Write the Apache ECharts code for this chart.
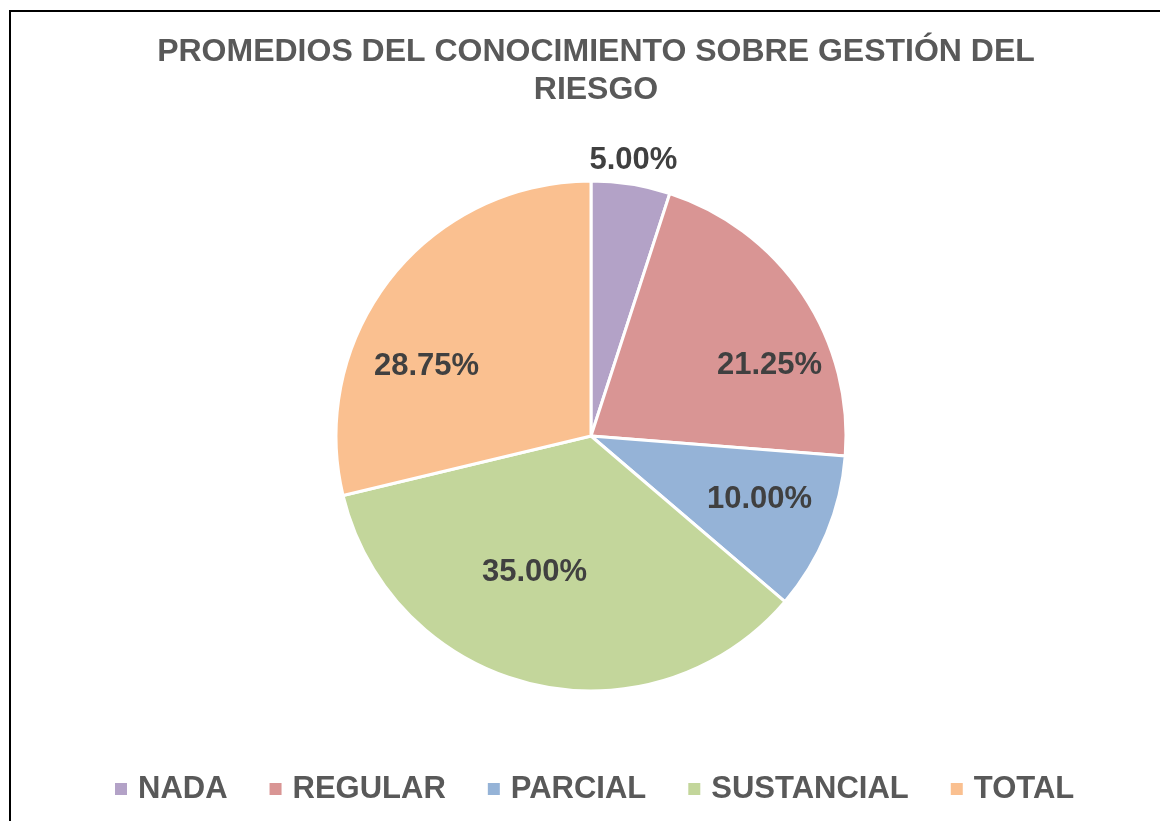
<!DOCTYPE html>
<html>
<head>
<meta charset="utf-8">
<title>Promedios del conocimiento sobre gestión del riesgo</title>
<script src="https://cdn.jsdelivr.net/npm/echarts@6/dist/echarts.min.js"></script>
<style>
  html, body { margin: 0; padding: 0; background: #fff; }
  #chart { width: 1160px; height: 821px; }
</style>
</head>
<body>
<div id="chart"></div>
<script>
// datos (porcentajes)
const categorias = ['NADA', 'REGULAR', 'PARCIAL', 'SUSTANCIAL', 'TOTAL'];
const valores = [5.00, 21.25, 10.00, 35.00, 28.75];

// colores de cada sector
const colores = ['#B3A2C7', '#D99594', '#95B3D7', '#C3D69B', '#FAC090'];
// desplazamiento de cada etiqueta (ajuste "mejor ajuste" como en Excel)
const desplazamientos = [[22, -147], [70, 2], [48, 14], [-26, 10], [-62, 11]];

const chart = echarts.init(document.getElementById('chart'));

const option = {
  backgroundColor: '#fff',
  animation: false,
  title: {
    text: 'PROMEDIOS DEL CONOCIMIENTO SOBRE GESTIÓN DEL\nRIESGO',
    left: 591,
    textAlign: 'center',
    top: 28,
    textStyle: {
      fontFamily: 'Liberation Sans, Arial, sans-serif',
      fontSize: 32,
      fontWeight: 'bold',
      color: '#595959',
      lineHeight: 38
    }
  },
  legend: {
    data: categorias,
    left: 108,
    top: 766,
    icon: 'rect',
    itemWidth: 14,
    itemHeight: 14,
    itemGap: 40,
    textStyle: {
      fontFamily: 'Liberation Sans, Arial, sans-serif',
      fontSize: 31,
      fontWeight: 'bold',
      color: '#595959',
      padding: [0, 0, 0, 5],
      lineHeight: 36
    }
  },
  graphic: [{
    type: 'rect',
    silent: true,
    shape: { x: 10, y: 11, width: 1300, height: 1000 },
    style: { fill: 'none', stroke: '#000', lineWidth: 2 }
  }],
  series: [{
    name: 'Conocimiento',
    type: 'pie',
    center: [591, 436],
    radius: 255,
    startAngle: 90,
    clockwise: true,
    avoidLabelOverlap: false,
    itemStyle: { borderColor: '#fff', borderWidth: 3 },
    label: {
      show: true,
      position: 'inside',
      fontFamily: 'Liberation Sans, Arial, sans-serif',
      fontSize: 31,
      fontWeight: 'bold',
      color: '#404040',
      formatter: p => p.value.toFixed(2) + '%'
    },
    labelLine: { show: false },
    emphasis: { disabled: true },
    data: categorias.map((c, i) => ({
      name: c,
      value: valores[i],
      itemStyle: { color: colores[i] },
      label: { offset: desplazamientos[i] }
    }))
  }]
};

chart.setOption(option);
window.onresize = () => chart.resize();
</script>
</body>
</html>
